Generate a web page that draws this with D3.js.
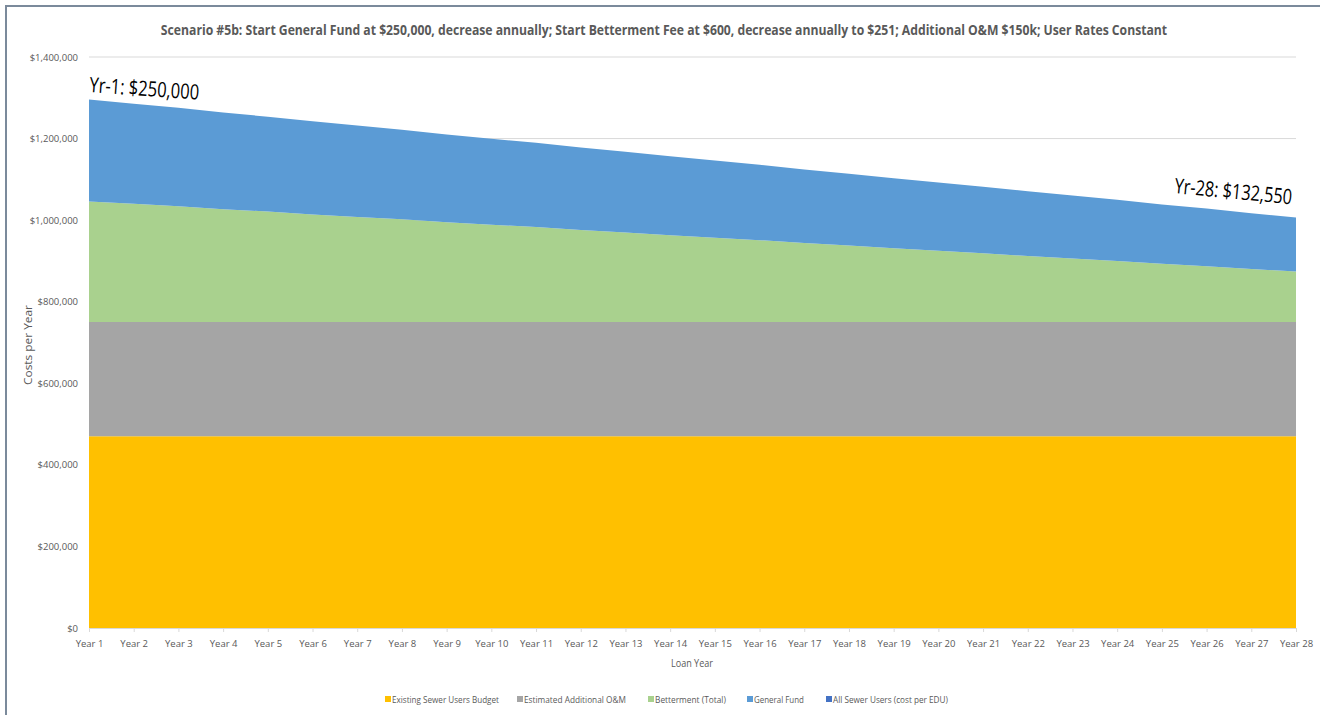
<!DOCTYPE html>
<html><head><meta charset="utf-8">
<script src="https://cdn.jsdelivr.net/npm/d3@7"></script>
<style>
body{margin:0;background:#fff;}
text{font-family:"Open Sans","Liberation Sans",sans-serif;}
</style></head>
<body><svg id="c" width="1320" height="715"></svg>
<script>
const categories = ["Year 1","Year 2","Year 3","Year 4","Year 5","Year 6","Year 7","Year 8","Year 9","Year 10","Year 11","Year 12","Year 13","Year 14","Year 15","Year 16","Year 17","Year 18","Year 19","Year 20","Year 21","Year 22","Year 23","Year 24","Year 25","Year 26","Year 27","Year 28"];
const existingSewer = [470000,470000,470000,470000,470000,470000,470000,470000,470000,470000,470000,470000,470000,470000,470000,470000,470000,470000,470000,470000,470000,470000,470000,470000,470000,470000,470000,470000];
const additionalOM = [280000,280000,280000,280000,280000,280000,280000,280000,280000,280000,280000,280000,280000,280000,280000,280000,280000,280000,280000,280000,280000,280000,280000,280000,280000,280000,280000,280000];
const betterment = [296000,290000,284000,277000,271000,264000,258000,252000,245000,239000,233000,226000,220000,213000,207000,201000,194000,188000,181000,175000,169000,162000,156000,150000,143000,137000,130000,124000];
const generalFund = [250000,245650,241300,236950,232600,228250,223900,219550,215200,210850,206500,202150,197800,193450,189100,184750,180400,176050,171700,167350,163000,158650,154300,149950,145600,141250,136900,132550];
const yTicks = [0,200000,400000,600000,800000,1000000,1200000,1400000];
const seriesNames = ["Existing Sewer Users Budget","Estimated Additional O&M","Betterment (Total)","General Fund","All Sewer Users (cost per EDU)"];
const seriesColors = ["#FFC000","#A5A5A5","#A9D18E","#5B9BD5","#4472C4"];
const title = "Scenario #5b: Start General Fund at $250,000, decrease annually; Start Betterment Fee at $600, decrease annually to $251; Additional O&M $150k; User Rates Constant";

const svg = d3.select("#c");
svg.append("rect").attr("x",6).attr("y",6).attr("width",1330).attr("height",730)
  .attr("fill","#fff").attr("stroke","#7b8a9b").attr("stroke-width",2);

// fit a text horizontally to a target width by scaling (keeps real text)
function fitText(sel, x0, y0, w, anchor, rot) {
  const n = sel.node();
  const len = n.getComputedTextLength();
  const sx = w / len;
  sel.attr("x",0).attr("y",0).attr("text-anchor",anchor||"start")
    .attr("transform",`translate(${x0},${y0}) rotate(${rot||0}) scale(${sx},1)`);
}

const x = d3.scalePoint().domain(categories).range([89,1296]);
const y = d3.scaleLinear().domain([0,1400000]).range([628,57]);

svg.append("g").selectAll("line").data(yTicks).join("line")
  .attr("x1",89).attr("x2",1296).attr("y1",d=>y(d)).attr("y2",d=>y(d))
  .attr("stroke","#d9d9d9").attr("stroke-width",1);

const table = categories.map((c,i)=>({cat:c, s0:existingSewer[i], s1:additionalOM[i], s2:betterment[i], s3:generalFund[i]}));
const stack = d3.stack().keys(["s0","s1","s2","s3"])(table);
const area = d3.area().x(d=>x(d.data.cat)).y0(d=>y(d[0])).y1(d=>y(d[1]));
svg.append("g").selectAll("path").data(stack).join("path")
  .attr("d",area).attr("fill",(d,i)=>seriesColors[i]);

const ya = svg.append("g").attr("transform","translate(89,0)")
  .call(d3.axisLeft(y).tickValues(yTicks).tickSize(0).tickPadding(11).tickFormat(d=>"$"+d3.format(",")(d)));
ya.select(".domain").remove();
ya.selectAll("text").attr("fill","#595959").attr("font-size",9.5);

const xa = svg.append("g").attr("transform","translate(0,628)")
  .call(d3.axisBottom(x).tickSize(4).tickSizeOuter(0).tickPadding(8));
xa.select(".domain").attr("stroke","#d9d9d9");
xa.selectAll(".tick line").attr("stroke","#d9d9d9");
xa.selectAll("text").attr("fill","#595959").attr("font-size",9.5);

const t = svg.append("text").attr("font-size",14.5).attr("font-weight","bold").attr("fill","#595959").text(title);
fitText(t, 664, 35, 1008, "middle");

const lx = svg.append("text").attr("font-size",10).attr("fill","#595959").text("Loan Year");
fitText(lx, 692, 667, 42, "middle");
const ly = svg.append("text").attr("font-size",10).attr("fill","#595959").text("Costs per Year");
fitText(ly, 32, 345, 80, "middle", -90);

const a1 = svg.append("text").attr("font-size",21).attr("fill","#000").text("Yr-1: $250,000");
fitText(a1, 89, 92, 110, "start", 4);
const a2 = svg.append("text").attr("font-size",21).attr("fill","#000").text("Yr-28: $132,550");
fitText(a2, 1174, 193, 118, "start", 5.5);

const legX = [385,517,648,747,826];
const legW = [107,102,71,50,115];
const lg = svg.append("g").selectAll("g").data(seriesNames).join("g")
  .attr("transform",(d,i)=>`translate(${legX[i]},699)`);
lg.append("rect").attr("x",0).attr("y",-3).attr("width",6).attr("height",6).attr("fill",(d,i)=>seriesColors[i]);
lg.append("text").attr("font-size",9.5).attr("fill","#595959").text(d=>d)
  .each(function(d,i){ fitText(d3.select(this), 7, 3.5, legW[i], "start"); });
</script></body></html>
